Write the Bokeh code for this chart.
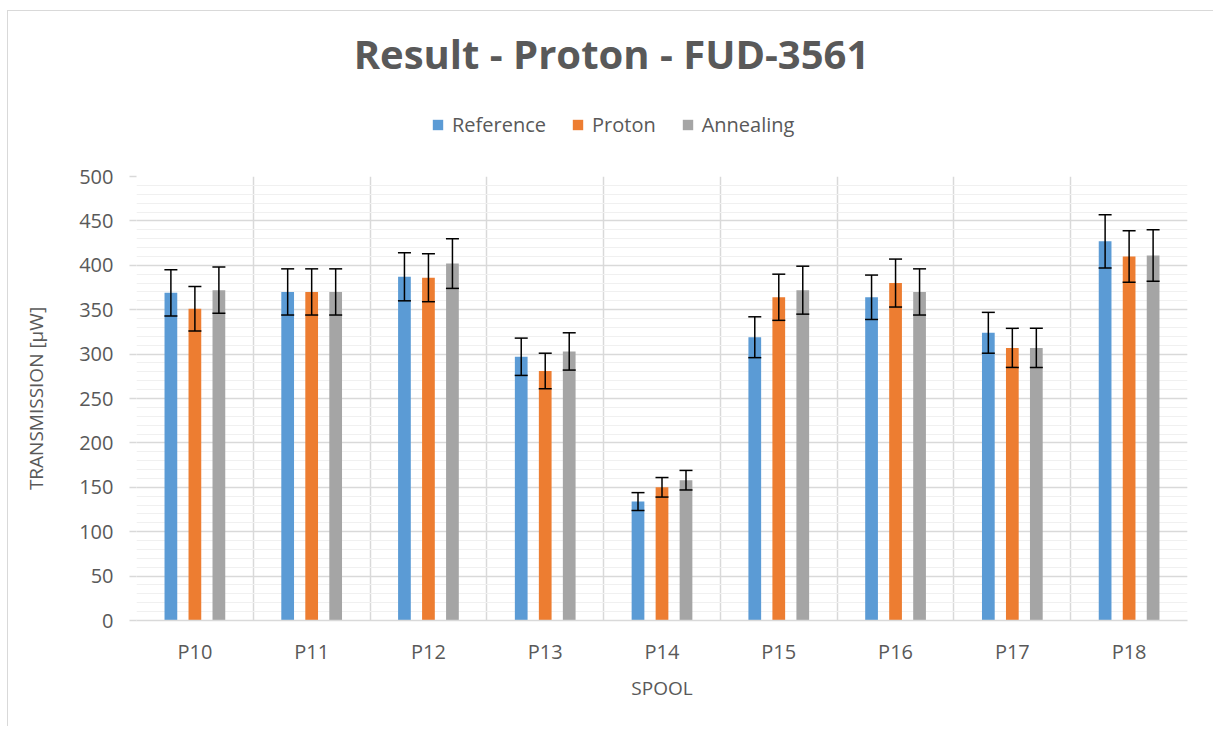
from bokeh.plotting import figure
from bokeh.layouts import column
from bokeh.models import (ColumnDataSource, Range1d, FixedTicker, SingleIntervalTicker,
                          Whisker, TeeHead, Legend, LegendItem, Label)
from bokeh.embed import file_html
from bokeh.resources import INLINE
import numpy as np

# ---- data ----
spools = ["P10", "P11", "P12", "P13", "P14", "P15", "P16", "P17", "P18"]
series_names = ["Reference", "Proton", "Annealing"]
reference = [369, 370, 387, 297, 134, 319, 364, 324, 427]
proton = [351, 370, 386, 281, 150, 364, 380, 307, 410]
annealing = [372, 370, 402, 303, 158, 372, 370, 307, 411]
reference_err = [26, 26, 27, 21, 10, 23, 25, 23, 30]
proton_err = [25, 26, 27, 20, 11, 26, 27, 22, 29]
annealing_err = [26, 26, 28, 21, 11, 27, 26, 22, 29]
colors = ["#5B9BD5", "#ED7D31", "#A5A5A5"]
chart_title = "Result - Proton - FUD-3561"

FONT = "Open Sans"
TXT = "#595959"
GRID = "#d9d9d9"

W = 1205
HEAD_H = 147
TOP_PAD = 18
MAIN_H = 568

# ---- header (title + legend) ----
head = figure(width=W, height=HEAD_H, output_backend="svg", toolbar_location=None,
              x_range=Range1d(0, 1), y_range=Range1d(0, 1),
              x_axis_type=None, y_axis_type=None, min_border=0)
head.outline_line_color = None
head.xgrid.visible = False
head.ygrid.visible = False

title = Label(x=475, y=105, x_units="screen", y_units="screen",
              text=chart_title, text_align="center",
              text_baseline="alphabetic", text_font=FONT, text_font_style="bold",
              text_font_size="40px", text_color=TXT)
head.add_layout(title)

dummies = []
for c in colors:
    # legend-only swatches (kept outside the visible range)
    dummies.append(head.quad(left=[2], right=[3], bottom=[2], top=[3],
                             fill_color=c, line_color=None))

legend = Legend(items=[LegendItem(label=n, renderers=[r]) for n, r in zip(series_names, dummies)],
                orientation="horizontal", location=(295, 20),
                glyph_width=13, glyph_height=13, label_standoff=8, spacing=25,
                padding=0, margin=0, border_line_color=None, background_fill_alpha=0,
                label_text_font=FONT, label_text_font_size="20px", label_text_color=TXT)
head.add_layout(legend, "center")

# ---- main chart ----
p = figure(width=W, height=MAIN_H, output_backend="svg", toolbar_location=None,
           x_range=Range1d(0, len(spools)), y_range=Range1d(0, 500),
           min_border_left=128, min_border_right=26, min_border_top=TOP_PAD,
           min_border_bottom=MAIN_H - TOP_PAD - 444)
p.outline_line_color = None

centers = np.arange(len(spools)) + 0.5
offsets = [-0.2055, 0.0, 0.2055]
bar_w = 0.109

vals = [reference, proton, annealing]
errs = [reference_err, proton_err, annealing_err]
for name, v, e, c, off in zip(series_names, vals, errs, colors, offsets):
    v = np.array(v, dtype=float)
    e = np.array(e, dtype=float)
    src = ColumnDataSource(dict(x=centers + off, top=v, upper=v + e, lower=v - e))
    p.vbar(x="x", top="top", width=bar_w, source=src, fill_color=c, line_color=None)
    wk = Whisker(source=src, base="x", upper="upper", lower="lower", dimension="height",
                 line_color="black", line_width=1.5, level="annotation",
                 upper_head=TeeHead(size=13, line_color="black", line_width=1.5),
                 lower_head=TeeHead(size=13, line_color="black", line_width=1.5))
    p.add_layout(wk)

# grids
p.ygrid.ticker = SingleIntervalTicker(interval=50, num_minor_ticks=5)
p.ygrid.grid_line_color = GRID
p.ygrid.grid_line_width = 1.5
p.ygrid.minor_grid_line_color = "#f0f0f0"
p.ygrid.minor_grid_line_width = 1
p.xgrid.ticker = FixedTicker(ticks=list(range(len(spools) + 1)))
p.xgrid.grid_line_color = GRID
p.xgrid.grid_line_width = 1.5

# y axis
p.yaxis.ticker = SingleIntervalTicker(interval=50, num_minor_ticks=0)
p.yaxis.axis_line_color = None
p.yaxis.major_tick_line_color = GRID
p.yaxis.major_tick_line_width = 1.5
p.yaxis.major_tick_out = 7
p.yaxis.major_tick_in = 0
p.yaxis.minor_tick_line_color = None
p.yaxis.major_label_standoff = 16
p.yaxis.major_label_text_font = FONT
p.yaxis.major_label_text_font_size = "20px"
p.yaxis.major_label_text_color = TXT
p.yaxis.axis_label = "TRANSMISSION [µW]"
p.yaxis.axis_label_text_font = FONT
p.yaxis.axis_label_text_font_size = "19px"
p.yaxis.axis_label_text_font_style = "normal"
p.yaxis.axis_label_text_color = TXT
p.yaxis.axis_label_standoff = 27

# x axis
p.xaxis.ticker = FixedTicker(ticks=list(centers))
p.xaxis.major_label_overrides = {float(c): s for c, s in zip(centers, spools)}
p.xaxis.axis_line_color = GRID
p.xaxis.axis_line_width = 1.5
p.xaxis.major_tick_line_color = None
p.xaxis.minor_tick_line_color = None
p.xaxis.major_label_standoff = 11
p.xaxis.major_label_text_font = FONT
p.xaxis.major_label_text_font_size = "20px"
p.xaxis.major_label_text_color = TXT
p.xaxis.axis_label = "SPOOL"
p.xaxis.axis_label_text_font = FONT
p.xaxis.axis_label_text_font_size = "19px"
p.xaxis.axis_label_text_font_style = "normal"
p.xaxis.axis_label_text_color = TXT
p.xaxis.axis_label_standoff = 7

layout = column(head, p, spacing=0,
                styles={"margin-left": "7px", "margin-top": "10px",
                        "border-left": "1px solid #d9d9d9", "border-top": "1px solid #d9d9d9"})
open("out.html", "w").write(file_html(layout, INLINE))
